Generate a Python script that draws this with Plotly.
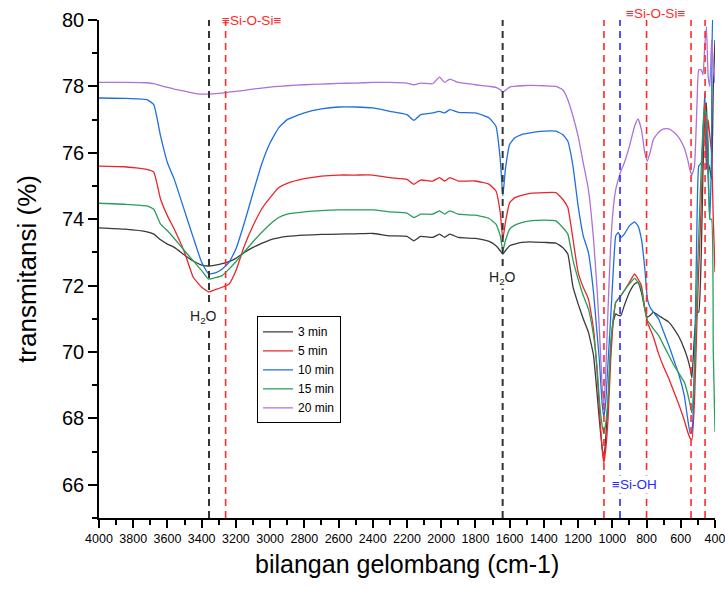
import plotly.graph_objects as go

wavenumber = [4000, 3850, 3720, 3680, 3640, 3600, 3560, 3500, 3450, 3400, 3360, 3320, 3280, 3240, 3200,
              3150, 3100, 3050, 3000, 2950, 2900, 2800, 2700, 2600, 2500, 2400, 2300, 2200, 2160, 2120,
              2050, 2010, 1980, 1950, 1900, 1800, 1720, 1680, 1655, 1640, 1625, 1600, 1570, 1530, 1480,
              1400, 1330, 1290, 1260, 1230, 1200, 1170, 1140, 1110, 1090, 1075, 1060, 1050, 1040, 1025,
              1010, 995, 980, 965, 950, 930, 900, 870, 850, 830, 810, 795, 780, 760, 730,
              700, 670, 640, 610, 580, 560, 545, 535, 520, 505, 495, 480, 470, 460, 450,
              440, 430, 420, 410, 400]

t3 = [73.74, 73.70, 73.62, 73.55, 73.38, 73.25, 73.15, 72.92, 72.74, 72.62, 72.59, 72.62, 72.66, 72.72, 72.82,
      73.00, 73.15, 73.27, 73.38, 73.44, 73.48, 73.52, 73.54, 73.55, 73.56, 73.57, 73.50, 73.48, 73.35, 73.48,
      73.45, 73.55, 73.45, 73.55, 73.45, 73.42, 73.33, 73.20, 73.05, 72.95, 73.05, 73.20, 73.25, 73.30, 73.32,
      73.30, 73.28, 73.15, 72.95, 71.96, 71.45, 71.00, 70.60, 69.90, 68.80, 67.90, 67.14, 66.75, 67.30, 68.50,
      70.10, 70.90, 71.15, 71.10, 71.10, 71.40, 71.80, 72.05, 72.10, 71.80, 71.30, 71.05, 71.10, 71.20, 71.10,
      71.00, 70.90, 70.70, 70.45, 70.10, 69.80, 69.50, 69.22, 70.50, 71.20, 71.20, 73.00, 75.50, 77.00, 77.50,
      75.70, 75.50, 75.20, 78.00, 79.40]

t5 = [75.60, 75.58, 75.50, 75.42, 74.60, 74.10, 73.70, 73.00, 72.26, 71.95, 71.81, 71.88, 71.95, 72.05, 72.45,
      73.20, 73.80, 74.30, 74.65, 74.95, 75.08, 75.22, 75.30, 75.33, 75.33, 75.33, 75.25, 75.20, 75.05, 75.18,
      75.15, 75.25, 75.15, 75.25, 75.15, 75.15, 75.05, 74.85, 74.20, 73.40, 73.90, 74.50, 74.65, 74.72, 74.78,
      74.80, 74.80, 74.60, 74.35, 73.40, 72.40, 71.95, 71.60, 70.70, 69.46, 68.20, 67.10, 66.66, 67.00, 68.00,
      69.70, 70.90, 71.50, 71.60, 71.70, 71.85, 72.10, 72.35, 72.20, 72.00, 71.30, 70.90, 70.70, 70.45, 69.95,
      69.55, 69.20, 68.80, 68.40, 67.95, 67.60, 67.40, 67.35, 68.50, 71.00, 72.50, 74.50, 76.50, 77.30, 75.50,
      77.00, 76.50, 76.00, 74.00, 72.40]

t10 = [77.65, 77.64, 77.60, 77.45, 76.50, 75.70, 75.20, 74.25, 73.46, 72.70, 72.36, 72.38, 72.50, 72.70, 73.10,
       73.90, 74.79, 75.65, 76.30, 76.75, 77.00, 77.20, 77.32, 77.38, 77.38, 77.35, 77.25, 77.15, 76.98, 77.15,
       77.20, 77.25, 77.20, 77.30, 77.22, 77.20, 77.05, 76.80, 75.80, 74.70, 75.50, 76.25, 76.45, 76.55, 76.60,
       76.65, 76.65, 76.55, 76.35, 75.60, 74.40, 73.50, 73.00, 71.80, 70.60, 69.70, 68.46, 68.05, 68.40, 69.70,
       71.00, 72.40, 73.50, 73.60, 73.45, 73.55, 73.80, 73.92, 73.80, 73.40, 72.50, 71.60, 71.35, 71.20, 71.00,
       70.60, 70.20, 69.75, 69.30, 68.70, 68.00, 67.55, 67.60, 69.50, 74.00, 75.60, 75.70, 76.50, 77.80, 76.50,
       75.20, 74.00, 76.00, 80.30, 80.30]

t15 = [74.48, 74.45, 74.40, 74.30, 73.85, 73.65, 73.42, 73.05, 72.75, 72.45, 72.20, 72.24, 72.30, 72.50, 72.72,
       73.02, 73.32, 73.60, 73.85, 74.05, 74.15, 74.22, 74.26, 74.28, 74.28, 74.28, 74.22, 74.18, 74.05, 74.15,
       74.15, 74.25, 74.15, 74.25, 74.15, 74.12, 74.02, 73.85, 73.50, 73.05, 73.35, 73.70, 73.82, 73.90, 73.95,
       73.97, 73.95, 73.75, 73.55, 72.77, 72.20, 71.70, 71.30, 70.50, 69.60, 68.50, 67.80, 67.56, 67.80, 68.60,
       70.20, 71.00, 71.50, 71.60, 71.70, 71.85, 72.05, 72.22, 72.10, 71.90, 71.30, 70.95, 70.85, 70.70, 70.50,
       70.20, 69.90, 69.60, 69.35, 69.10, 68.75, 68.40, 68.16, 69.50, 72.00, 73.50, 75.60, 76.80, 77.50, 77.00,
       76.30, 74.00, 74.00, 70.00, 67.60]

t20 = [78.12, 78.12, 78.11, 78.08, 78.02, 77.97, 77.92, 77.86, 77.80, 77.77, 77.77, 77.78, 77.80, 77.83, 77.85,
       77.88, 77.92, 77.95, 77.98, 78.00, 78.02, 78.05, 78.07, 78.09, 78.10, 78.12, 78.12, 78.10, 78.05, 78.10,
       78.08, 78.28, 78.12, 78.22, 78.12, 78.05, 78.00, 77.97, 77.90, 77.82, 77.88, 77.98, 78.00, 78.02, 78.03,
       78.02, 78.00, 77.90, 77.60, 77.10, 76.50, 75.70, 74.90, 73.40, 71.96, 70.60, 69.00, 68.40, 69.20, 71.30,
       73.20, 74.30, 74.90, 75.20, 75.45, 75.70, 76.20, 76.80, 77.02, 76.70, 76.00, 75.75, 76.00, 76.40, 76.62,
       76.72, 76.72, 76.62, 76.45, 76.15, 75.80, 75.45, 75.33, 75.60, 77.50, 78.50, 78.50, 78.35, 79.20, 79.80,
       78.30, 78.00, 79.40, 78.60, 78.10]

series_names = ["3 min", "5 min", "10 min", "15 min", "20 min"]
series_values = [t3, t5, t10, t15, t20]
series_colors = ["#3a3a3a", "#e8262b", "#1f6fe0", "#2a9d58", "#ad72d9"]

black_lines = [3357, 1641]
red_lines = [3260, 1049, 800, 540, 458]
blue_lines = [955]

x_ticks = list(range(4000, 399, -200))

fig = go.Figure()
for name, vals, col in zip(series_names, series_values, series_colors):
    fig.add_trace(go.Scatter(x=wavenumber, y=vals, name=name, mode="lines",
                             line=dict(color=col, width=1.3, shape="spline", smoothing=0.4)))

shapes = []
for xs, col, w in [(black_lines, "#333333", 2), (red_lines, "#ff2a2a", 1.6), (blue_lines, "#2a2aff", 1.6)]:
    for xv in xs:
        shapes.append(dict(type="line", xref="x", yref="paper", x0=xv, x1=xv, y0=0, y1=1,
                           line=dict(color=col, width=w, dash="7px,5px"), layer="above"))

font_family = "Arial, Liberation Sans, sans-serif"
annotations = [
    dict(x=3392, y=71.05, xref="x", yref="y", text="H<sub>2</sub>O", showarrow=False,
         font=dict(size=14, color="#222", family=font_family), bgcolor="white", borderpad=1),
    dict(x=1639, y=72.23, xref="x", yref="y", text="H<sub>2</sub>O", showarrow=False,
         font=dict(size=14, color="#222", family=font_family), bgcolor="white", borderpad=1),
    dict(x=3106, y=1.0, xref="x", yref="paper", text="≡Si-O-Si≡", showarrow=False, yanchor="middle",
         font=dict(size=13.5, color="#ff2a2a", family=font_family)),
    dict(x=750, y=1.014, xref="x", yref="paper", text="≡Si-O-Si≡", showarrow=False, yanchor="middle",
         font=dict(size=13.5, color="#ff2a2a", family=font_family)),
    dict(x=873, y=66.0, xref="x", yref="y", text="≡Si-OH", showarrow=False,
         font=dict(size=13.5, color="#2a2aff", family=font_family), bgcolor="white", borderpad=1),
    dict(x=0.5, y=-0.092, xref="paper", yref="paper", text="bilangan gelombang (cm-1)", showarrow=False,
         yanchor="middle", xanchor="center", borderpad=0,
         font=dict(size=25, color="black", family=font_family)),
]

fig.update_layout(
    width=725, height=589,
    margin=dict(l=99, r=10, t=20, b=71, autoexpand=False),
    paper_bgcolor="white", plot_bgcolor="white",
    font=dict(family=font_family, color="black"),
    shapes=shapes, annotations=annotations,
    showlegend=True,
    legend=dict(x=0.2565, y=0.405, xanchor="left", yanchor="top", bordercolor="black", borderwidth=1,
                bgcolor="white", font=dict(size=12, family=font_family), tracegroupgap=0,
                itemwidth=30),
)
fig.update_xaxes(range=[4000, 400], tickvals=x_ticks, ticktext=[str(v) for v in x_ticks],
                 automargin=False, ticklabeloverflow="allow",
                 showgrid=False, zeroline=False, showline=True, linecolor="black", linewidth=1.5,
                 ticks="outside", ticklen=8, tickwidth=1.5, tickcolor="black",
                 minor=dict(dtick=100, ticks="outside", ticklen=5, tickwidth=1.5, tickcolor="black", tick0=400),
                 tickfont=dict(size=12.5))
fig.update_yaxes(range=[65, 80], tick0=66, dtick=2, showgrid=False, zeroline=False,
                 automargin=False, ticklabeloverflow="allow",
                 showline=True, linecolor="black", linewidth=1.5,
                 ticks="outside", ticklen=9, tickwidth=1.5, tickcolor="black",
                 minor=dict(dtick=1, tick0=65, ticks="outside", ticklen=5, tickwidth=1.5, tickcolor="black"),
                 tickfont=dict(size=20),
                 title=dict(text="transmitansi (%)", font=dict(size=26), standoff=18))

fig.write_html("out.html", config={"displayModeBar": False},
               post_script="document.body.style.margin='0px';")
